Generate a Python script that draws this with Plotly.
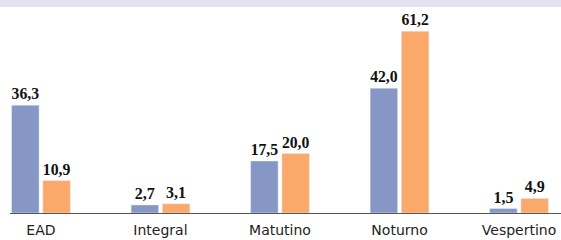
import plotly.graph_objects as go

categories = ["EAD", "Integral", "Matutino", "Noturno", "Vespertino"]
series_a = [36.3, 2.7, 17.5, 42.0, 1.5]
series_b = [10.9, 3.1, 20.0, 61.2, 4.9]

def fmt(v):
    return f"{v:.1f}".replace(".", ",")

label_font = dict(family="Liberation Serif", size=16, color="#111111", weight="bold")

fig = go.Figure()
fig.add_trace(go.Bar(x=categories, y=series_a, marker_color="#8797c5",
                     text=[fmt(v) for v in series_a], textposition="outside",
                     textfont=label_font, cliponaxis=False, showlegend=False))
fig.add_trace(go.Bar(x=categories, y=series_b, marker_color="#fba96a",
                     text=[fmt(v) for v in series_b], textposition="outside",
                     textfont=label_font, cliponaxis=False, showlegend=False))

fig.update_layout(
    width=561, height=240,
    margin=dict(l=10, r=0, t=5, b=27, autoexpand=False),
    paper_bgcolor="white", plot_bgcolor="white",
    barmode="group", bargap=0.477, bargroupgap=0.12,
    xaxis=dict(type="category", range=[-0.259, 4.351], showgrid=False, automargin=False,
               showline=True, linecolor="#555555", linewidth=1,
               ticks="", ticklabelstandoff=4,
               tickfont=dict(family="DejaVu Sans", size=14, color="#222222")),
    yaxis=dict(range=[0, 70], visible=False, automargin=False),
    shapes=[dict(type="rect", xref="paper", yref="paper", x0=-10/551, x1=1.0,
                 y0=206/208, y1=213/208, fillcolor="#e3e3f1",
                 line_width=0, layer="below")],
)
fig.update_traces(textangle=0)
fig.write_html("out.html", config={"displayModeBar": False},
               post_script="document.body.style.margin='0';document.body.style.overflow='hidden';")
